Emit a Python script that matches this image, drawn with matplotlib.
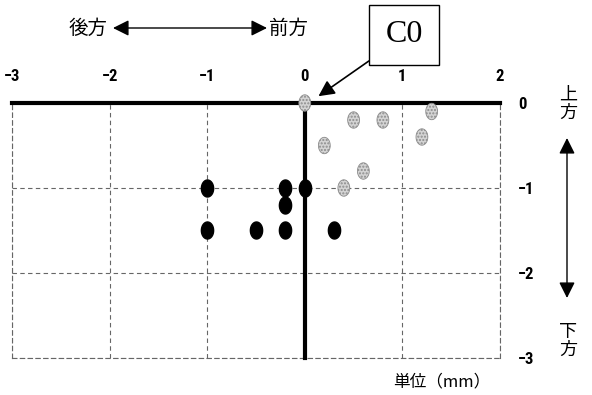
import numpy as np
import matplotlib
matplotlib.use("Agg")
from matplotlib import pyplot as plt
from matplotlib.path import Path
from matplotlib import font_manager

plt.rcParams['font.family'] = ['Noto Sans CJK JP', 'DejaVu Sans']

# data (mm)
blackX = [-1, -0.2, 0, -0.2, -1, -0.5, -0.2, 0.3]
blackY = [-1, -1, -1, -1.2, -1.5, -1.5, -1.5, -1.5]
greyX = [0, 0.5, 0.8, 1.3, 0.2, 1.2, 0.6, 0.4]
greyY = [0, -0.2, -0.2, -0.1, -0.5, -0.4, -0.8, -1.0]
xTicks = [-3, -2, -1, 0, 1, 2]
yTicks = [0, -1, -2, -3]

# narrow bold font for ticks if we can find one
names = set(f.name for f in font_manager.fontManager.ttflist)
tickFont = 'DejaVu Sans'
for cand in ['Liberation Sans Narrow', 'Arial Narrow', 'Roboto Condensed', 'DejaVu Sans Condensed']:
    if cand in names:
        tickFont = cand
        break

# tall ellipse marker
t = np.linspace(0, 2 * np.pi, 61)
ellipse = Path(np.column_stack([0.72 * np.cos(t), np.sin(t)]), closed=True)

fig = plt.figure(figsize=(5.92, 3.95), dpi=100)
ax = fig.add_axes([12 / 592, 1 - 358 / 395, 488 / 592, 255 / 395])

ax.set_xlim(-3, 2)
ax.set_ylim(-3, 0)
ax.set_xticks(xTicks)
ax.set_yticks(yTicks)
ax.xaxis.tick_top()
ax.yaxis.tick_right()
ax.tick_params(length=0, labelsize=12)
ax.tick_params(axis='x', pad=14)
ax.tick_params(axis='y', pad=13)
for lab in ax.get_xticklabels() + ax.get_yticklabels():
    lab.set_family(tickFont)
    lab.set_fontweight('heavy')
    lab.set_fontstretch('condensed')

ax.grid(True, color='#666666', lw=0.8, linestyle=(0, (4, 3)))
for side in ['left', 'right', 'bottom']:
    ax.spines[side].set_linestyle((0, (4, 3)))
    ax.spines[side].set_color('#666666')
    ax.spines[side].set_linewidth(0.8)
ax.spines['top'].set_visible(False)

ax.axhline(0, color='black', lw=3, clip_on=False, zorder=3)
ax.axvline(0, color='black', lw=3, clip_on=False, zorder=3)

ax.scatter(blackX, blackY, marker=ellipse, s=150, color='black', zorder=4)
ax.scatter(greyX, greyY, marker=ellipse, s=140, facecolor='#d4d4d4',
           edgecolor='#8c8c8c', hatch='.....', linewidth=0.6, zorder=5, clip_on=False)

# C0 label box with arrow
ax.annotate('C0', xy=(0.14, 0.08), xycoords='data',
            xytext=(404, 360), textcoords='figure pixels',
            ha='center', va='center', fontsize=23, family='Liberation Serif',
            bbox=dict(boxstyle='square,pad=0.5', fc='white', ec='black', lw=1),
            arrowprops=dict(arrowstyle='-|>', color='black', lw=1.2, mutation_scale=24,
                            relpos=(0, 0), shrinkA=0, shrinkB=0),
            annotation_clip=False)

# direction arrows
fig.text(88 / 592, 1 - 28 / 395, '後方', ha='center', va='center', fontsize=14)
fig.text(289 / 592, 1 - 28 / 395, '前方', ha='center', va='center', fontsize=14)
ax.annotate('', xy=(267, 367), xytext=(113, 367), xycoords='figure pixels',
            arrowprops=dict(arrowstyle='<|-|>', color='black', lw=1,
                            mutation_scale=24, shrinkA=0, shrinkB=0))

fig.text(568 / 592, 1 - 104 / 395, '上\n方', ha='center', va='center', fontsize=13, linespacing=1.0)
fig.text(568 / 592, 1 - 341 / 395, '下\n方', ha='center', va='center', fontsize=13, linespacing=1.0)
ax.annotate('', xy=(567, 395 - 298), xytext=(567, 395 - 138), xycoords='figure pixels',
            arrowprops=dict(arrowstyle='<|-|>', color='black', lw=1,
                            mutation_scale=24, shrinkA=0, shrinkB=0))

fig.text(442 / 592, 1 - 382 / 395, '単位（mm）', ha='center', va='center', fontsize=12)

fig.savefig('out.png', dpi=100)
